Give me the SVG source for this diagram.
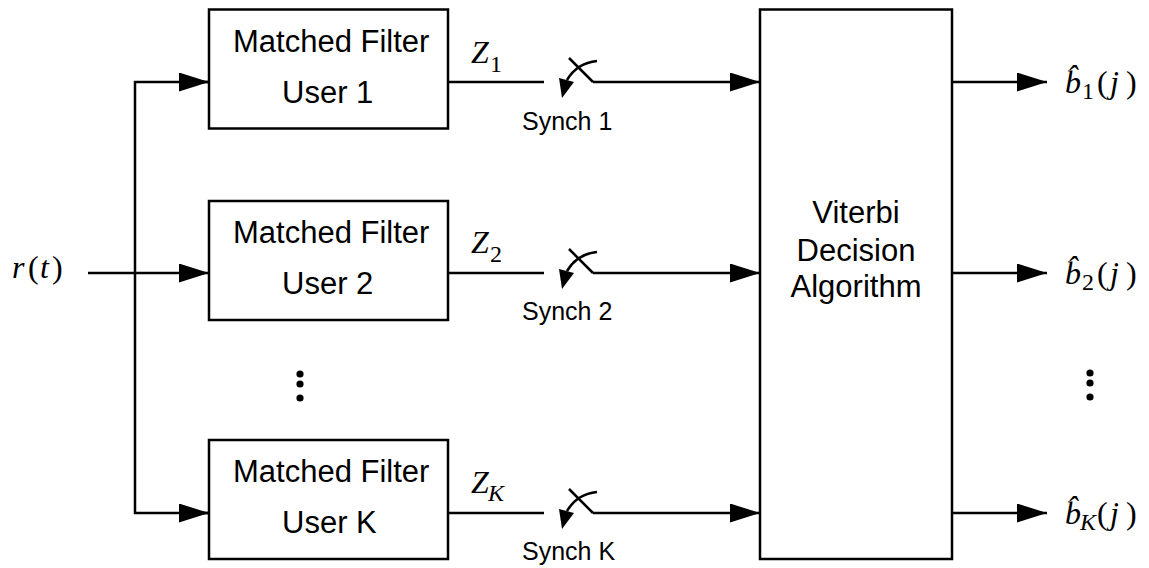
<svg xmlns="http://www.w3.org/2000/svg" xmlns:xlink="http://www.w3.org/1999/xlink" width="1149" height="568" viewBox="0 0 1149 568">
<style>
.box{fill:#fff;stroke:#000;stroke-width:2.5}
.ln{fill:none;stroke:#000;stroke-width:2.5}
.lab{font-family:"Liberation Sans",Arial,sans-serif;font-size:31px;fill:#000}
.syn{font-family:"Liberation Sans",Arial,sans-serif;font-size:25px;fill:#000}
.m{font-family:"Liberation Serif","Times New Roman",serif;font-size:32px;fill:#000}
.mi{font-family:"Liberation Serif","Times New Roman",serif;font-size:32px;font-style:italic;fill:#000}
.sub{font-family:"Liberation Serif","Times New Roman",serif;font-size:24px;fill:#000}
.subi{font-family:"Liberation Serif","Times New Roman",serif;font-size:24px;font-style:italic;fill:#000}
</style>
<defs>
<marker id="ah" markerUnits="userSpaceOnUse" markerWidth="31" markerHeight="20" refX="30" refY="9.5" orient="auto">
<path d="M0,0 L30,9.5 L0,19 z" fill="#000"/>
</marker>
<g id="sw">
<line x1="593" y1="0" x2="569" y2="-24" class="ln"/>
<path d="M597,-21 Q577,-19 567,-2" class="ln" stroke-width="2"/>
<polygon points="559,-4 574,0 562,16" fill="#000"/>
</g>
<g id="dots">
<circle cx="0" cy="0" r="3.6" fill="#000"/>
<circle cx="0" cy="10" r="3.6" fill="#000"/>
<circle cx="0" cy="24" r="3.6" fill="#000"/>
</g>
</defs>
<rect width="1149" height="568" fill="#fff"/>

<g id="connectors">
<line x1="88" y1="273" x2="209" y2="273" class="ln" marker-end="url(#ah)"/>
<polyline points="209,82 135,82 135,513 209,513" class="ln"/>
<line x1="179" y1="82" x2="209" y2="82" class="ln" marker-end="url(#ah)"/>
<line x1="179" y1="513" x2="209" y2="513" class="ln" marker-end="url(#ah)"/>
<line x1="448" y1="82" x2="544" y2="82" class="ln"/>
<line x1="448" y1="273" x2="544" y2="273" class="ln"/>
<line x1="448" y1="513" x2="544" y2="513" class="ln"/>
<line x1="593" y1="82" x2="760" y2="82" class="ln" marker-end="url(#ah)"/>
<line x1="593" y1="273" x2="760" y2="273" class="ln" marker-end="url(#ah)"/>
<line x1="593" y1="513" x2="760" y2="513" class="ln" marker-end="url(#ah)"/>
<line x1="952" y1="82" x2="1047" y2="82" class="ln" marker-end="url(#ah)"/>
<line x1="952" y1="273" x2="1047" y2="273" class="ln" marker-end="url(#ah)"/>
<line x1="952" y1="513" x2="1047" y2="513" class="ln" marker-end="url(#ah)"/>
</g>

<g id="sw1"><use xlink:href="#sw" transform="translate(0,82)"/><text class="syn" x="522" y="130">Synch 1</text></g>
<g id="sw2"><use xlink:href="#sw" transform="translate(0,273)"/><text class="syn" x="522" y="320">Synch 2</text></g>
<g id="swK"><use xlink:href="#sw" transform="translate(0,513)"/><text class="syn" x="522" y="560">Synch K</text></g>

<g id="mf1">
<rect class="box" x="209" y="9.5" width="239" height="119"/>
<text class="lab" x="233" y="52">Matched Filter</text>
<text class="lab" x="282" y="103">User 1</text>
</g>
<g id="mf2">
<rect class="box" x="209" y="201" width="239" height="119"/>
<text class="lab" x="233" y="243">Matched Filter</text>
<text class="lab" x="282" y="294">User 2</text>
</g>
<g id="mfK">
<rect class="box" x="209" y="440" width="239" height="119"/>
<text class="lab" x="233" y="482">Matched Filter</text>
<text class="lab" x="282" y="533">User K</text>
</g>
<g id="viterbi">
<rect class="box" x="760" y="9.5" width="192" height="549.5"/>
<text class="lab" text-anchor="middle" x="856" y="223">Viterbi</text>
<text class="lab" text-anchor="middle" x="856" y="261">Decision</text>
<text class="lab" text-anchor="middle" x="856" y="297">Algorithm</text>
</g>

<g id="labels">
<text x="12" y="278"><tspan class="mi">r</tspan><tspan class="m" x="28">(</tspan><tspan class="mi" x="40">t</tspan><tspan class="m" x="52">)</tspan></text>
<text x="471" y="63"><tspan class="mi">Z</tspan><tspan class="sub" x="490" dy="9">1</tspan></text>
<text x="471" y="253"><tspan class="mi">Z</tspan><tspan class="sub" x="490" dy="9">2</tspan></text>
<text x="471" y="493"><tspan class="mi">Z</tspan><tspan class="subi" x="488" dy="8">K</tspan></text>
<text id="out1" x="1065" y="93"><tspan class="mi">b̂</tspan><tspan class="sub" x="1082" dy="6">1</tspan><tspan class="m" x="1097" dy="-6">(</tspan><tspan class="mi" x="1110">j</tspan><tspan class="m" x="1126">)</tspan></text>
<text id="out2" x="1065" y="284"><tspan class="mi">b̂</tspan><tspan class="sub" x="1082" dy="6">2</tspan><tspan class="m" x="1097" dy="-6">(</tspan><tspan class="mi" x="1110">j</tspan><tspan class="m" x="1126">)</tspan></text>
<text id="outK" x="1065" y="524"><tspan class="mi">b̂</tspan><tspan class="subi" x="1080" dy="6">K</tspan><tspan class="m" x="1097" dy="-6">(</tspan><tspan class="mi" x="1110">j</tspan><tspan class="m" x="1126">)</tspan></text>
</g>
<use xlink:href="#dots" transform="translate(300,374)"/>
<use xlink:href="#dots" transform="translate(1090,373)"/>
</svg>
